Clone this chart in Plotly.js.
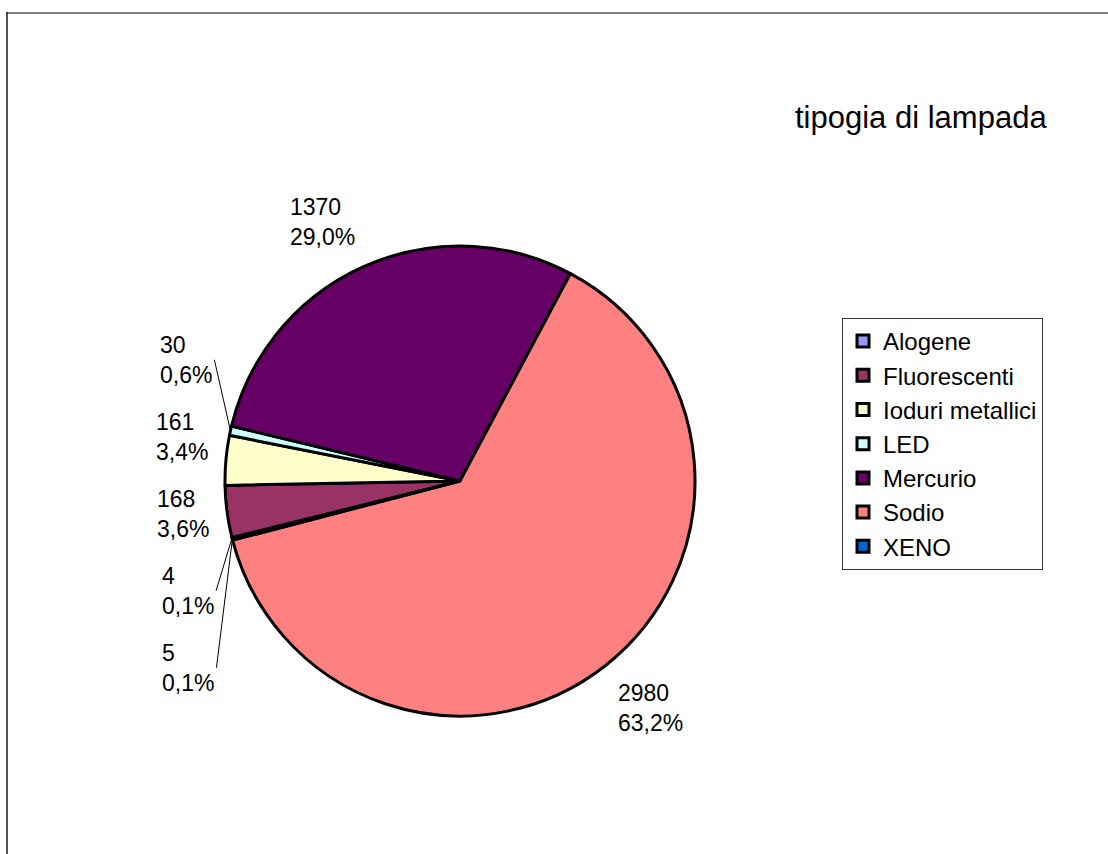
<!DOCTYPE html>
<html>
<head>
<meta charset="utf-8">
<script src="https://cdn.plot.ly/plotly-3.0.1.min.js"></script>
<style>html,body{margin:0;padding:0;background:#fff;}#chart{width:1108px;height:854px;}</style>
</head>
<body>
<div id="chart"></div>
<script>
const categories = ["Alogene", "Fluorescenti", "Ioduri metallici", "LED", "Mercurio", "Sodio", "XENO"];
const values = [4, 168, 161, 30, 1370, 2980, 5];
const colors = ["#9999FF", "#993366", "#FFFFCC", "#CCFFFF", "#660066", "#FF8080", "#0066CC"];
const chartTitle = "tipogia di lampada";

const FONT = "Liberation Sans, Arial, sans-serif";
const W = 1108, H = 854;
const CX = 460, CY = 481, R = 235;       // pie centre and radius in px
const ROTATION = -104.2;                  // start angle, clockwise from 12 o'clock
const LABEL_DIST = 1.07;                  // label anchor distance (× radius)
const LABEL_GAP = 77;                     // min vertical spacing of stacked labels
const LEADER_MIN = 30;                    // displacement that gets a leader line

// ---- data labels computed from the values (Excel-like placement) ----
const total = values.reduce((a, b) => a + b, 0);
function fmtPct(v) { return (v / total * 100).toFixed(1).replace(".", ",") + "%"; }

let cum = 0;
const labels = values.map((v, i) => {
  const mid = ROTATION + (cum + v / 2) / total * 360;
  cum += v;
  const a = mid * Math.PI / 180;
  const ux = Math.sin(a), uy = -Math.cos(a);
  return {
    i, ux, uy,
    ex: CX + R * ux, ey: CY + R * uy,                  // slice edge point
    px: CX + R * LABEL_DIST * ux, py: CY + R * LABEL_DIST * uy,
    text: values[i] + "<br>" + fmtPct(v)
  };
});
labels.forEach(l => {
  l.xanchor = l.ux < -0.15 ? "right" : (l.ux > 0.15 ? "left" : "center");
  l.yanchor = l.uy < -0.5 ? "bottom" : (l.uy > 0.5 ? "top" : "middle");
  l.y = l.py;
});

// resolve overlaps on each side for the side-anchored labels
function relax(side) {
  const items = labels.filter(l => l.yanchor === "middle" && Math.sign(l.ux) === side)
                      .sort((a, b) => a.py - b.py);
  let groups = items.map(it => ({ m: [it] }));
  const place = g => {
    const ys = g.m.map(x => x.py).sort((a, b) => a - b);
    const n = ys.length;
    const med = n % 2 ? ys[(n - 1) / 2] : (ys[n / 2 - 1] + ys[n / 2]) / 2;
    g.start = med - (n - 1) * LABEL_GAP / 2;
  };
  groups.forEach(place);
  let changed = true;
  while (changed) {
    changed = false;
    for (let k = 0; k < groups.length - 1; k++) {
      const a = groups[k], b = groups[k + 1];
      if (a.start + a.m.length * LABEL_GAP > b.start) {
        const g = { m: a.m.concat(b.m) };
        place(g);
        groups.splice(k, 2, g);
        changed = true;
        break;
      }
    }
  }
  groups.forEach(g => g.m.forEach((it, k) => { it.y = g.start + k * LABEL_GAP; }));
}
relax(-1);
relax(1);

const px2x = x => x / W, px2y = y => 1 - y / H;
const annotations = labels.map(l => {
  const base = {
    text: l.text, align: "left",
    font: { family: FONT, size: 23, color: "#000000" },
    xref: "paper", yref: "paper",
    xanchor: l.xanchor, yanchor: l.yanchor
  };
  if (Math.abs(l.y - l.py) > LEADER_MIN) {
    return Object.assign(base, {
      x: px2x(l.ex), y: px2y(l.ey),
      showarrow: true, arrowhead: 0, arrowwidth: 1, arrowcolor: "#000000",
      ax: l.px - l.ex, ay: l.y - l.ey, axref: "pixel", ayref: "pixel", standoff: 0
    });
  }
  return Object.assign(base, { x: px2x(l.px), y: px2y(l.y), showarrow: false });
});

const trace = {
  type: "pie",
  labels: categories,
  values: values,
  sort: false,
  direction: "clockwise",
  rotation: ROTATION,
  marker: { colors: colors, line: { color: "#000000", width: 3 } },
  textinfo: "none",
  hoverinfo: "label+value+percent",
  domain: { x: [(CX - R) / W, (CX + R) / W], y: [1 - (CY + R) / H, 1 - (CY - R) / H] }
};

const layout = {
  width: W,
  height: H,
  margin: { l: 0, r: 0, t: 0, b: 0 },
  paper_bgcolor: "#ffffff",
  separators: ",.",
  font: { family: FONT, color: "#000000" },
  title: {
    text: chartTitle,
    font: { family: FONT, size: 31, color: "#000000" },
    x: 795 / W, xanchor: "left",
    y: 1 - 117 / H, yanchor: "middle"
  },
  showlegend: true,
  legend: {
    x: 842 / W, xanchor: "left",
    y: 1 - 318 / H, yanchor: "top",
    bordercolor: "#333333", borderwidth: 1,
    bgcolor: "#ffffff",
    font: { family: FONT, size: 24, color: "#000000" },
    traceorder: "normal"
  },
  annotations: annotations,
  shapes: [
    { type: "line", xref: "paper", yref: "paper", x0: 7 / W, x1: 1, y0: 1 - 13 / H, y1: 1 - 13 / H, line: { color: "#808080", width: 2 } },
    { type: "line", xref: "paper", yref: "paper", x0: 7 / W, x1: 7 / W, y0: 0, y1: 1 - 12 / H, line: { color: "#1a1a1a", width: 1.5 } }
  ]
};

Plotly.newPlot("chart", [trace], layout, { displayModeBar: false, staticPlot: true });
</script>
</body>
</html>
